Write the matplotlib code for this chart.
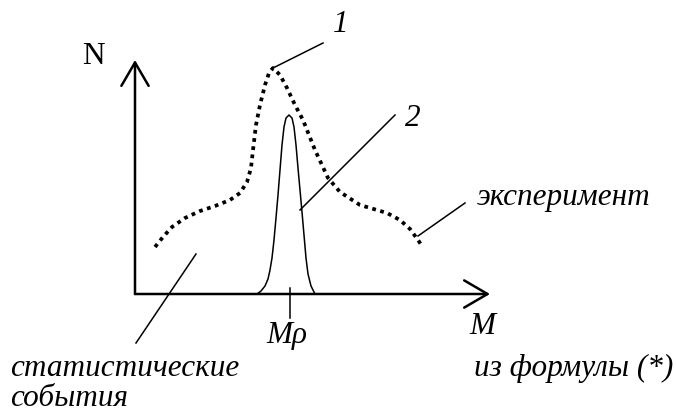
import matplotlib
matplotlib.use("Agg")
import matplotlib.pyplot as plt

# координаты в пикселях исходной картинки (y вниз)
# экспериментальная кривая (1), пунктир
exp_x = [155, 163, 172, 185, 200, 215, 230, 240, 247, 251, 253, 256, 260, 265, 269, 273,
         280, 287, 295, 303, 315, 328, 340, 360, 387, 400, 410, 418, 422]
exp_y = [247, 237, 227, 218, 211, 206, 200, 193, 182, 168, 150, 125, 105, 85, 73, 68,
         75, 88, 105, 120, 150, 178, 192, 205, 213, 220, 229, 240, 246]

# расчётный пик (2)
peak_x = [257, 261, 265, 268, 270, 272, 274, 276, 278, 280, 282, 284, 286, 289,
          292, 294, 296, 298, 300, 302, 304, 306, 308, 311, 315]
peak_y = [294, 291, 286, 279, 270, 258, 240, 218, 195, 170, 145, 127, 118, 115,
          118, 127, 145, 168, 190, 212, 235, 258, 274, 286, 294]

# оси
origin = (135, 294)
x_end = 490
y_end = 60
m_rho = 290

# выноски: (x1, y1, x2, y2)
leaders = {
    "1": (273, 68, 323, 43),
    "2": (300, 210, 395, 115),
    "exp": (418, 236, 465, 203),
    "stat": (196, 254, 136, 343),
}

W, H = 676, 413
fig = plt.figure(figsize=(W / 100, H / 100), dpi=100)
ax = fig.add_axes([0, 0, 1, 1])
ax.set_xlim(0, W)
ax.set_ylim(H, 0)
ax.axis("off")

lw_axis = 1.8
lw_thin = 1.1

# оси со стрелками
arrow = dict(arrowstyle="->,head_length=1.2,head_width=0.7", lw=lw_axis, color="black",
             shrinkA=0, shrinkB=0, mutation_scale=14)
ax.annotate("", xy=(x_end, origin[1]), xytext=origin, arrowprops=arrow)
ax.annotate("", xy=(origin[0], y_end), xytext=origin, arrowprops=arrow)

# кривые
ax.plot(exp_x, exp_y, color="black", lw=2.7, linestyle=(0, (1.0, 1.2)),
        dash_capstyle="butt")
ax.plot(peak_x, peak_y, color="black", lw=lw_thin, solid_joinstyle="round")

# риска M_rho
ax.plot([m_rho, m_rho], [288, 318], color="black", lw=lw_thin)

for x1, y1, x2, y2 in leaders.values():
    ax.plot([x1, x2], [y1, y2], color="black", lw=lw_thin)

serif = "Liberation Serif"
fs = 22.5
ax.text(93, 57, "N", fontsize=fs, family=serif, ha="center", va="center")
ax.text(341, 25, "1", fontsize=fs, family=serif, style="italic", ha="center", va="center")
ax.text(413, 118, "2", fontsize=fs, family=serif, style="italic", ha="center", va="center")
ax.text(477, 197, "эксперимент", fontsize=fs, family=serif, style="italic",
        ha="left", va="center")
ax.text(287, 335, "Mρ", fontsize=fs, family=serif, style="italic", ha="center", va="center")
ax.text(482, 326, "M", fontsize=fs, family=serif, style="italic", ha="center", va="center")
ax.text(10, 368, "статистические", fontsize=fs, family=serif, style="italic",
        ha="left", va="center")
ax.text(10, 399, "события", fontsize=fs, family=serif, style="italic",
        ha="left", va="center")
ax.text(673, 368, "из формулы (*)", fontsize=fs, family=serif, style="italic",
        ha="right", va="center")

fig.savefig("out.png", dpi=100)
